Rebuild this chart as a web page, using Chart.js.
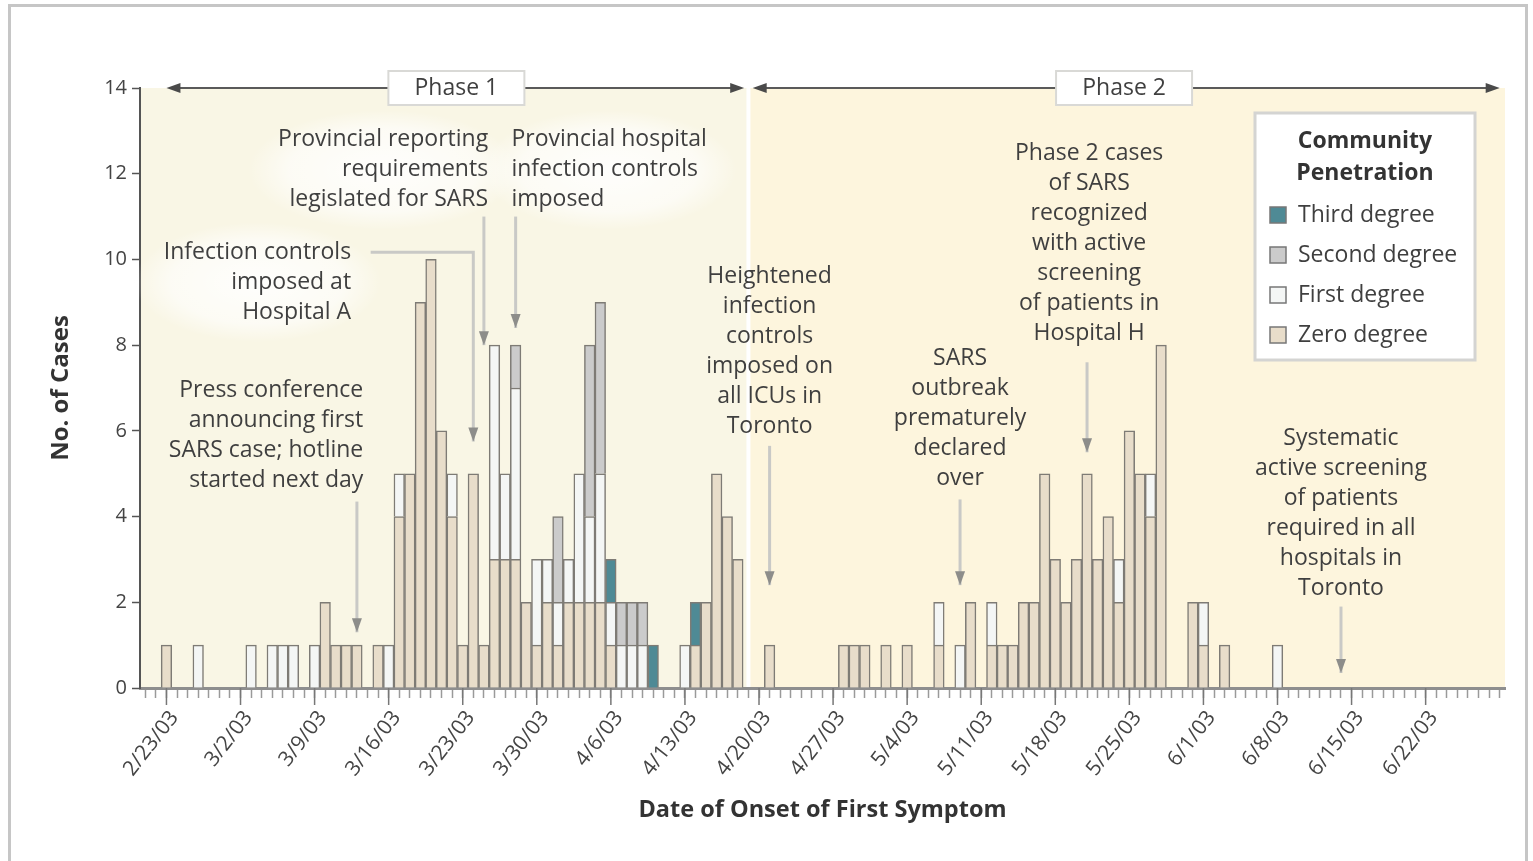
<!DOCTYPE html>
<html>
<head>
<meta charset="utf-8">
<title>SARS cases by date of onset</title>
<script src="https://cdn.jsdelivr.net/npm/chart.js@4.4.1/dist/chart.umd.min.js"></script>
<style>
html, body { margin: 0; padding: 0; background: #fff; }
#wrap { position: relative; width: 1533px; height: 861px; overflow: hidden; }
#frame { position: absolute; left: 8px; top: 4px; width: 1520px; height: 870px; border: 3px solid #c6c6c6; box-sizing: border-box; pointer-events: none; }
canvas { position: absolute; left: 0; top: 0; }
</style>
</head>
<body>
<div id="wrap">
<canvas id="chart-sars" width="1533" height="861"></canvas>
<div id="frame"></div>
</div>
<script>
// days on the x axis, from 2/21/03, one bar per day
const firstDay = Date.UTC(2003, 1, 21);
const dayCount = 129;

const weekLabels = ['2/23/03', '3/2/03', '3/9/03', '3/16/03', '3/23/03', '3/30/03', '4/6/03', '4/13/03',
    '4/20/03', '4/27/03', '5/4/03', '5/11/03', '5/18/03', '5/25/03', '6/1/03', '6/8/03', '6/15/03', '6/22/03'];

// one row per week (Fri..Thu)
const zeroDegree = [
    0, 0, 1, 0, 0, 0, 0,
    0, 0, 0, 0, 0, 0, 0,
    0, 0, 0, 2, 1, 1, 1,
    0, 1, 0, 4, 5, 9, 10,
    6, 4, 1, 5, 1, 3, 3,
    3, 2, 1, 2, 1, 2, 2,
    2, 2, 1, 0, 0, 0, 0,
    0, 0, 0, 1, 2, 5, 4,
    3, 0, 0, 1, 0, 0, 0,
    0, 0, 0, 1, 1, 1, 0,
    1, 0, 1, 0, 0, 1, 0,
    0, 2, 0, 1, 1, 1, 2,
    2, 5, 3, 2, 3, 5, 3,
    4, 2, 6, 5, 4, 8, 0,
    0, 2, 1, 0, 1, 0, 0,
    0, 0, 0, 0, 0, 0, 0,
    0, 0, 0, 0, 0, 0, 0,
    0, 0, 0, 0, 0, 0, 0,
    0, 0, 0
];
const firstDegree = [
    0, 0, 0, 0, 0, 1, 0,
    0, 0, 0, 1, 0, 1, 1,
    1, 0, 1, 0, 0, 0, 0,
    0, 0, 1, 1, 0, 0, 0,
    0, 1, 0, 0, 0, 5, 2,
    4, 0, 2, 1, 1, 1, 3,
    2, 3, 1, 1, 1, 1, 0,
    0, 0, 1, 0, 0, 0, 0,
    0, 0, 0, 0, 0, 0, 0,
    0, 0, 0, 0, 0, 0, 0,
    0, 0, 0, 0, 0, 1, 0,
    1, 0, 0, 1, 0, 0, 0,
    0, 0, 0, 0, 0, 0, 0,
    0, 1, 0, 0, 1, 0, 0,
    0, 0, 1, 0, 0, 0, 0,
    0, 0, 1, 0, 0, 0, 0,
    0, 0, 0, 0, 0, 0, 0,
    0, 0, 0, 0, 0, 0, 0,
    0, 0, 0
];
const secondDegree = [
    0, 0, 0, 0, 0, 0, 0,
    0, 0, 0, 0, 0, 0, 0,
    0, 0, 0, 0, 0, 0, 0,
    0, 0, 0, 0, 0, 0, 0,
    0, 0, 0, 0, 0, 0, 0,
    1, 0, 0, 0, 2, 0, 0,
    4, 4, 0, 1, 1, 1, 0,
    0, 0, 0, 0, 0, 0, 0,
    0, 0, 0, 0, 0, 0, 0,
    0, 0, 0, 0, 0, 0, 0,
    0, 0, 0, 0, 0, 0, 0,
    0, 0, 0, 0, 0, 0, 0,
    0, 0, 0, 0, 0, 0, 0,
    0, 0, 0, 0, 0, 0, 0,
    0, 0, 0, 0, 0, 0, 0,
    0, 0, 0, 0, 0, 0, 0,
    0, 0, 0, 0, 0, 0, 0,
    0, 0, 0, 0, 0, 0, 0,
    0, 0, 0
];
const thirdDegree = [
    0, 0, 0, 0, 0, 0, 0,
    0, 0, 0, 0, 0, 0, 0,
    0, 0, 0, 0, 0, 0, 0,
    0, 0, 0, 0, 0, 0, 0,
    0, 0, 0, 0, 0, 0, 0,
    0, 0, 0, 0, 0, 0, 0,
    0, 0, 1, 0, 0, 0, 1,
    0, 0, 0, 1, 0, 0, 0,
    0, 0, 0, 0, 0, 0, 0,
    0, 0, 0, 0, 0, 0, 0,
    0, 0, 0, 0, 0, 0, 0,
    0, 0, 0, 0, 0, 0, 0,
    0, 0, 0, 0, 0, 0, 0,
    0, 0, 0, 0, 0, 0, 0,
    0, 0, 0, 0, 0, 0, 0,
    0, 0, 0, 0, 0, 0, 0,
    0, 0, 0, 0, 0, 0, 0,
    0, 0, 0, 0, 0, 0, 0,
    0, 0, 0
];

// phases: category index (day) where each arrow starts / ends
const phaseSplit = 57;
const phases = [
    { label: 'Phase 1', from: 2, to: 56.6, mid: 29.4 },
    { label: 'Phase 2', from: 57.4, to: 128, mid: 92.5 },
];

// notes: x = category index, y = value of the first text line
const notes = [
    { lines: ['Press conference', 'announcing first', 'SARS case; hotline', 'started next day'],
      align: 'right', x: 20.6, y: 6.95, arrow: [[20, 4.35], [20, 1.3]] },
    { lines: ['Infection controls', 'imposed at', 'Hospital A'],
      align: 'right', x: 19.45, y: 10.17, glow: true, arrow: [[21.3, 10.17], [31, 10.17], [31, 5.75]] },
    { lines: ['Provincial reporting', 'requirements', 'legislated for SARS'],
      align: 'right', x: 32.4, y: 12.79, glow: true, arrow: [[32, 11.0], [32, 8.0]] },
    { lines: ['Provincial hospital', 'infection controls', 'imposed'],
      align: 'left', x: 34.6, y: 12.79, glow: true, arrow: [[35, 11.0], [35, 8.4]] },
    { lines: ['Heightened', 'infection', 'controls', 'imposed on', 'all ICUs in', 'Toronto'],
      align: 'center', x: 59, y: 9.61, arrow: [[59, 5.65], [59, 2.4]] },
    { lines: ['SARS', 'outbreak', 'prematurely', 'declared', 'over'],
      align: 'center', x: 77, y: 7.7, arrow: [[77, 4.4], [77, 2.4]] },
    { lines: ['Phase 2 cases', 'of SARS', 'recognized', 'with active', 'screening', 'of patients in', 'Hospital H'],
      align: 'center', x: 89.2, y: 12.48, arrow: [[89, 7.6], [89, 5.5]] },
    { lines: ['Systematic', 'active screening', 'of patients', 'required in all', 'hospitals in', 'Toronto'],
      align: 'center', x: 113, y: 5.83, arrow: [[113, 1.9], [113, 0.35]] },
];

const colors = {
    zero: '#e8ddca',
    first: '#f4f6f5',
    second: '#cbcbcb',
    third: '#4f8a95',
    edge: '#7e7b75',
};

const days = [];
for (let i = 0; i < dayCount; i++) {
    const d = new Date(firstDay + i * 86400000);
    days.push((d.getUTCMonth() + 1) + '/' + d.getUTCDate() + '/03');
}

const FONT = "'Open Sans', sans-serif";
Chart.defaults.font.family = FONT;
Chart.defaults.color = '#444';

const arrowHead = (ctx, x, y, ang, len, half) => {
    ctx.beginPath();
    ctx.moveTo(x, y);
    ctx.lineTo(x - len * Math.cos(ang) + half * Math.sin(ang), y - len * Math.sin(ang) - half * Math.cos(ang));
    ctx.lineTo(x - len * Math.cos(ang) - half * Math.sin(ang), y - len * Math.sin(ang) + half * Math.cos(ang));
    ctx.closePath();
    ctx.fill();
};

const extras = {
    id: 'extras',
    beforeDraw(chart) {
        const { ctx, chartArea: a, scales: { x } } = chart;
        const xb = x.getPixelForValue(phaseSplit);
        ctx.save();
        ctx.fillStyle = '#f9f6e5';
        ctx.fillRect(a.left, a.top, xb - a.left, a.bottom - a.top);
        ctx.fillStyle = '#fdf5dd';
        ctx.fillRect(xb, a.top, a.right - xb, a.bottom - a.top);
        ctx.fillStyle = '#ffffff';
        ctx.fillRect(xb - 2, a.top, 4, a.bottom - a.top);
        ctx.restore();
    },
    afterDatasetsDraw(chart) {
        const { ctx, chartArea: a, scales: { x, y } } = chart;
        ctx.save();

        // longer ticks under the dated days
        ctx.strokeStyle = '#777';
        ctx.lineWidth = 1.5;
        weekLabels.forEach(lab => {
            const px = x.getPixelForValue(days.indexOf(lab));
            ctx.beginPath();
            ctx.moveTo(px, a.bottom);
            ctx.lineTo(px, a.bottom + 17);
            ctx.stroke();
        });

        // notes
        const lineH = 30;
        ctx.font = '23px ' + FONT;
        ctx.textBaseline = 'middle';
        notes.forEach(n => {
            const tx = x.getPixelForValue(n.x);
            const ty = y.getPixelForValue(n.y);
            if (n.glow) {
                const w = Math.max(...n.lines.map(l => ctx.measureText(l).width));
                const cx = n.align === 'right' ? tx - w / 2 : n.align === 'left' ? tx + w / 2 : tx;
                const cy = ty + (n.lines.length - 1) * lineH / 2;
                ctx.save();
                ctx.translate(cx, cy);
                ctx.scale(1, (n.lines.length * lineH + 30) / (w + 60));
                const g = ctx.createRadialGradient(0, 0, 0, 0, 0, (w + 60) / 2);
                g.addColorStop(0, 'rgba(255,255,255,0.9)');
                g.addColorStop(0.7, 'rgba(255,255,255,0.6)');
                g.addColorStop(1, 'rgba(255,255,255,0)');
                ctx.fillStyle = g;
                ctx.beginPath();
                ctx.arc(0, 0, (w + 60) / 2, 0, Math.PI * 2);
                ctx.fill();
                ctx.restore();
            }
            ctx.fillStyle = '#3f3f3f';
            ctx.textAlign = n.align;
            n.lines.forEach((l, i) => ctx.fillText(l, tx, ty + i * lineH));

            const pts = n.arrow.map(p => [x.getPixelForValue(p[0]), y.getPixelForValue(p[1])]);
            ctx.strokeStyle = '#c9c9c6';
            ctx.lineWidth = 3;
            ctx.beginPath();
            pts.forEach((p, i) => i ? ctx.lineTo(p[0], p[1]) : ctx.moveTo(p[0], p[1]));
            ctx.stroke();
            const [p1, p2] = pts.slice(-2);
            ctx.fillStyle = '#8d8d8a';
            arrowHead(ctx, p2[0], p2[1], Math.atan2(p2[1] - p1[1], p2[0] - p1[0]), 14, 5);
        });

        // phase arrows along the top
        const top = y.getPixelForValue(14);
        phases.forEach(ph => {
            const x0 = x.getPixelForValue(ph.from);
            const x1 = x.getPixelForValue(ph.to);
            ctx.strokeStyle = '#5a5a5a';
            ctx.fillStyle = '#4a4a4a';
            ctx.lineWidth = 2;
            ctx.beginPath();
            ctx.moveTo(x0 + 6, top);
            ctx.lineTo(x1 - 6, top);
            ctx.stroke();
            arrowHead(ctx, x0, top, Math.PI, 14, 5);
            arrowHead(ctx, x1, top, 0, 14, 5);
            const mx = x.getPixelForValue(ph.mid);
            ctx.fillStyle = '#fff';
            ctx.fillRect(mx - 68, top - 17, 136, 34);
            ctx.strokeStyle = '#d9d9d6';
            ctx.lineWidth = 2;
            ctx.strokeRect(mx - 68, top - 17, 136, 34);
            ctx.fillStyle = '#3f3f3f';
            ctx.textAlign = 'center';
            ctx.font = '23px ' + FONT;
            ctx.fillText(ph.label, mx, top);
        });

        // legend box
        const bx = a.right - 250, by = a.top + 25, bw = 220, bh = 247;
        ctx.fillStyle = '#fff';
        ctx.fillRect(bx, by, bw, bh);
        ctx.strokeStyle = '#d4d4d2';
        ctx.lineWidth = 3;
        ctx.strokeRect(bx, by, bw, bh);
        ctx.fillStyle = '#333';
        ctx.textAlign = 'center';
        ctx.font = 'bold 23px ' + FONT;
        ctx.fillText('Community', bx + bw / 2, by + 28);
        ctx.fillText('Penetration', bx + bw / 2, by + 60);
        ctx.font = '23px ' + FONT;
        ctx.textAlign = 'left';
        chart.data.datasets.slice().reverse().forEach((ds, i) => {
            const iy = by + 102 + i * 40;
            ctx.fillStyle = ds.backgroundColor;
            ctx.fillRect(bx + 15, iy - 8, 16, 16);
            ctx.strokeStyle = '#777';
            ctx.lineWidth = 1.5;
            ctx.strokeRect(bx + 15, iy - 8, 16, 16);
            ctx.fillStyle = '#3f3f3f';
            ctx.fillText(ds.label, bx + 43, iy);
        });
        ctx.restore();
    },
};

const barDefaults = {
    borderColor: colors.edge,
    borderWidth: 1.5,
    barPercentage: 1,
    categoryPercentage: 1,
};

new Chart(document.getElementById('chart-sars').getContext('2d'), {
    type: 'bar',
    data: {
        labels: days,
        datasets: [
            { label: 'Zero degree', data: zeroDegree, backgroundColor: colors.zero, ...barDefaults },
            { label: 'First degree', data: firstDegree, backgroundColor: colors.first, ...barDefaults },
            { label: 'Second degree', data: secondDegree, backgroundColor: colors.second, ...barDefaults },
            { label: 'Third degree', data: thirdDegree, backgroundColor: colors.third, ...barDefaults },
        ],
    },
    options: {
        responsive: false,
        devicePixelRatio: 1,
        animation: false,
        layout: { padding: { left: 0, right: 28, top: 88, bottom: 0 } },
        plugins: {
            legend: { display: false },
            tooltip: { enabled: false },
        },
        scales: {
            x: {
                stacked: true,
                afterFit: (scale) => { scale.height = 173; },
                grid: { drawOnChartArea: false, offset: false, tickLength: 10, tickColor: '#9a9a9a', tickWidth: 1.5 },
                border: { color: '#8e8e8e', width: 3 },
                ticks: {
                    autoSkip: false,
                    maxRotation: 52,
                    minRotation: 52,
                    padding: 8,
                    labelOffset: 8,
                    font: { size: 21 },
                    color: '#444',
                    callback: function (value) {
                        const lab = this.getLabelForValue(value);
                        return weekLabels.includes(lab) ? lab : '';
                    },
                },
                title: {
                    display: true,
                    text: 'Date of Onset of First Symptom',
                    font: { size: 23.5, weight: 'bold' },
                    color: '#333',
                    padding: { top: 0, bottom: 37 },
                },
            },
            y: {
                stacked: true,
                min: 0,
                max: 14,
                afterFit: (scale) => { scale.width = 140; },
                grid: { drawOnChartArea: false, tickLength: 8, tickColor: '#555', tickWidth: 1.5 },
                border: { color: '#555', width: 2 },
                ticks: { stepSize: 2, padding: 5, font: { size: 20 }, color: '#444' },
                title: {
                    display: true,
                    text: 'No. of Cases',
                    font: { size: 24, weight: 'bold' },
                    color: '#333',
                    padding: { top: 47, bottom: 0 },
                },
            },
        },
    },
    plugins: [extras],
});
</script>
</body>
</html>
